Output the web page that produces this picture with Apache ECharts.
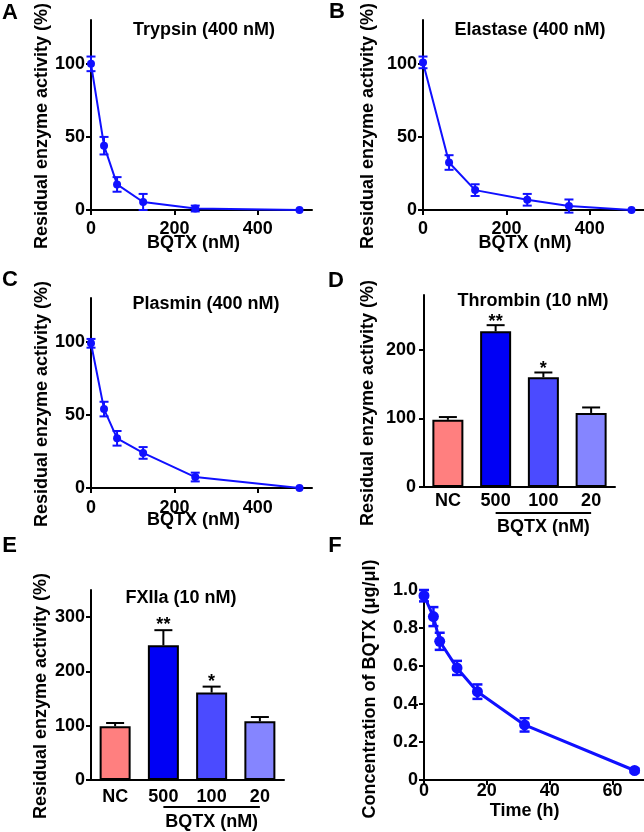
<!DOCTYPE html>
<html><head><meta charset="utf-8">
<script src="https://cdn.jsdelivr.net/npm/echarts@6/dist/echarts.min.js"></script>
<style>html,body{margin:0;padding:0;background:#fff}#c{width:644px;height:832px}</style>
</head><body><div id="c"></div>
<script>
// ---------- data ----------
// Panel A - Trypsin (400 nM)
const trypsinX = [0, 31.25, 62.5, 125, 250, 500];
const trypsinY = [100, 44, 17.5, 5.5, 1, 0];
const trypsinErr = [5, 6, 5, 5.5, 2, 0];
// Panel B - Elastase (400 nM)
const elastaseX = [0, 62.5, 125, 250, 350, 500];
const elastaseY = [101, 32.5, 13.6, 7, 2.7, 0];
const elastaseErr = [4, 5, 4, 4, 4.5, 0];
// Panel C - Plasmin (400 nM)
const plasminX = [0, 31.25, 62.5, 125, 250, 500];
const plasminY = [99, 54, 34, 24, 7.5, 0];
const plasminErr = [3, 5, 5, 4, 3, 0];
// Panel D - Thrombin (10 nM)
const barCats = ['NC', '500', '100', '20'];
const thrombinY = [98, 227, 160, 108];
const thrombinErr = [4, 9, 7, 8];
const thrombinSig = ['', '**', '*', ''];
// Panel E - FXIIa (10 nM)
const fxiiaY = [99, 248, 161, 108];
const fxiiaErr = [6, 28, 11, 8];
const fxiiaSig = ['', '**', '*', ''];
// Panel F - concentration over time
const timeX = [0, 3, 5, 10.5, 17, 32, 67];
const concY = [0.97, 0.86, 0.73, 0.59, 0.465, 0.29, 0.05];
const concErr = [0.03, 0.05, 0.045, 0.037, 0.038, 0.035, 0.01];
// tick labels
const doseTicks = [0, 200, 400];
const pctTicks = [0, 50, 100];
const thrombinTicks = [0, 100, 200];
const fxiiaTicks = [0, 100, 200, 300];
const timeTicks = [0, 20, 40, 60];

// ---------- styles ----------
const FONT = 'Liberation Sans, Arial, Helvetica, sans-serif';
const BLUE = '#1010FF';
const barColors = ['#FF7F7F', '#0000F5', '#4B4BFF', '#8585FF'];

const grids = [
  {left: 91, top: 20, width: 221, height: 190},
  {left: 423, top: 20, width: 221, height: 190},
  {left: 91, top: 298, width: 221, height: 190},
  {left: 424, top: 295, width: 191, height: 192},
  {left: 91, top: 590, width: 193, height: 190},
  {left: 424, top: 590, width: 220, height: 190}
].map(g => Object.assign({outerBoundsMode: 'none', containLabel: false}, g));

const axLine = {show: true, onZero: false, lineStyle: {color: '#000', width: 2}};
const tickSt = {color: '#000', width: 2};
const lab = (m, extra) => Object.assign({color: '#000', fontSize: 18, fontWeight: 'bold', fontFamily: FONT, margin: m}, extra || {});

function valX(idx, max, ticks, margin) {
  return {type: 'value', gridIndex: idx, min: 0, max: max,
    axisLine: axLine, splitLine: {show: false},
    axisTick: {show: true, length: 5, lineStyle: tickSt, customValues: ticks},
    axisLabel: lab(margin, {customValues: ticks})};
}
function valY(idx, max, ticks, margin, fmt) {
  const l = lab(margin, {customValues: ticks});
  if (fmt) l.formatter = fmt;
  return {type: 'value', gridIndex: idx, min: 0, max: max,
    axisLine: axLine, splitLine: {show: false},
    axisTick: {show: true, length: 5, lineStyle: tickSt, customValues: ticks},
    axisLabel: l};
}
function catX(idx, margin) {
  return {type: 'category', gridIndex: idx, data: barCats,
    axisLine: axLine, axisTick: {show: false}, splitLine: {show: false},
    axisLabel: lab(margin)};
}

const xAxes = [
  valX(0, 530, doseTicks, 10),
  valX(1, 530, doseTicks, 10),
  valX(2, 530, doseTicks, 11),
  catX(3, 5),
  catX(4, 8),
  valX(5, 70, timeTicks, 2)
];
const yAxes = [
  valY(0, 130, pctTicks, 6),
  valY(1, 130, pctTicks, 6),
  valY(2, 130, pctTicks, 6),
  valY(3, 280, thrombinTicks, 8),
  valY(4, 350, fxiiaTicks, 6),
  valY(5, 1.0, null, 6, v => v === 0 ? '0' : v.toFixed(1))
];
yAxes[5].interval = 0.2;
delete yAxes[5].axisTick.customValues;
delete yAxes[5].axisLabel.customValues;

const zip = (a, b, c) => a.map((v, i) => c ? [v, b[i], c[i]] : [v, b[i]]);

function lineSeries(idx, xs, ys, size, width) {
  return {type: 'line', xAxisIndex: idx, yAxisIndex: idx, data: zip(xs, ys),
    symbol: 'circle', symbolSize: size, showSymbol: true, z: 3,
    lineStyle: {color: BLUE, width: width}, itemStyle: {color: BLUE}, animation: false};
}
function errSeries(idx, xs, ys, es, cap, width) {
  return {type: 'custom', xAxisIndex: idx, yAxisIndex: idx, data: zip(xs, ys, es), z: 2, clip: false,
    renderItem: function (p, api) {
      const x = api.value(0), y = api.value(1), e = api.value(2);
      if (!e) return null;
      const t = api.coord([x, y + e]), b = api.coord([x, y - e]);
      const st = {stroke: BLUE, lineWidth: width};
      return {type: 'group', children: [
        {type: 'line', shape: {x1: t[0], y1: t[1], x2: b[0], y2: b[1]}, style: st},
        {type: 'line', shape: {x1: t[0] - cap / 2, y1: t[1], x2: t[0] + cap / 2, y2: t[1]}, style: st},
        {type: 'line', shape: {x1: b[0] - cap / 2, y1: b[1], x2: b[0] + cap / 2, y2: b[1]}, style: st}
      ]};
    }, animation: false};
}
function barSeries(idx, ys) {
  return {type: 'bar', xAxisIndex: idx, yAxisIndex: idx, barWidth: 31, z: 3,
    data: ys.map((v, i) => ({value: v, itemStyle: {color: barColors[i]}})),
    itemStyle: {borderColor: '#000', borderWidth: 2}, animation: false};
}
function barErrSeries(idx, ys, es, sig, starGap) {
  return {type: 'custom', xAxisIndex: idx, yAxisIndex: idx, z: 2, clip: false,
    data: ys.map((v, i) => [i, v, es[i]]),
    renderItem: function (p, api) {
      const i = api.value(0), y = api.value(1), e = api.value(2);
      const t = api.coord([i, y + e]), b = api.coord([i, y]);
      const st = {stroke: '#000', lineWidth: 2};
      const ch = [
        {type: 'line', shape: {x1: t[0], y1: t[1], x2: b[0], y2: b[1]}, style: st},
        {type: 'line', shape: {x1: t[0] - 9, y1: t[1], x2: t[0] + 9, y2: t[1]}, style: st}
      ];
      const s = sig[p.dataIndex];
      if (s) ch.push({type: 'text', x: t[0], y: t[1] - starGap,
        style: {text: s, fill: '#000', font: 'bold 18px ' + FONT, align: 'center', verticalAlign: 'middle'}});
      return {type: 'group', children: ch};
    }, animation: false};
}
function bracketSeries(idx, lineDy, textDy) {
  return {type: 'custom', xAxisIndex: idx, yAxisIndex: idx, clip: false, z: 4,
    data: [[1, 3]],
    renderItem: function (p, api) {
      const a = api.coord([api.value(0), 0]), b = api.coord([api.value(1), 0]);
      return {type: 'group', children: [
        {type: 'line', shape: {x1: a[0], y1: a[1] + lineDy, x2: b[0], y2: b[1] + lineDy},
          style: {stroke: '#000', lineWidth: 2}},
        {type: 'text', x: (a[0] + b[0]) / 2, y: a[1] + textDy,
          style: {text: 'BQTX (nM)', fill: '#000', font: 'bold 18px ' + FONT, align: 'center', verticalAlign: 'middle'}}
      ]};
    }, animation: false};
}

function txt(t, x, y, size, rot) {
  return {type: 'text', x: x, y: y, rotation: rot || 0, z: 10,
    style: {text: t, fill: '#000', font: 'bold ' + size + 'px ' + FONT, align: 'center', verticalAlign: 'middle'}};
}
const R = Math.PI / 2;
const yTitle = 'Residual enzyme activity (%)';
const graphics = [
  txt('A', 10, 12.5, 22), txt('B', 337, 12, 22), txt('C', 10, 280, 22),
  txt('D', 336, 280.5, 22), txt('E', 9.5, 546, 22), txt('F', 335, 546, 22),
  txt('Trypsin (400 nM)', 204, 30, 18), txt('Elastase (400 nM)', 530, 30, 18),
  txt('Plasmin (400 nM)', 206, 304, 18), txt('Thrombin (10 nM)', 533, 301.5, 18),
  txt('FXIIa (10 nM)', 181, 598, 18),
  txt(yTitle, 42.5, 126, 18, R), txt(yTitle, 368.5, 126, 18, R), txt(yTitle, 42.5, 404, 18, R),
  txt(yTitle, 368.5, 403, 18, R), txt(yTitle, 41.5, 696, 18, R),
  txt('Concentration of BQTX (\u03bcg/\u03bcl)', 370, 689, 18, R),
  txt('BQTX (nM)', 193.5, 243, 18), txt('BQTX (nM)', 525, 243, 18),
  txt('BQTX (nM)', 193.5, 520, 18), txt('Time (h)', 524.7, 811, 18)
];

const chart = echarts.init(document.getElementById('c'), null, {renderer: 'canvas'});
chart.setOption({
  backgroundColor: '#fff', animation: false,
  grid: grids, xAxis: xAxes, yAxis: yAxes, graphic: graphics,
  series: [
    errSeries(0, trypsinX, trypsinY, trypsinErr, 9, 2), lineSeries(0, trypsinX, trypsinY, 8, 2),
    errSeries(1, elastaseX, elastaseY, elastaseErr, 9, 2), lineSeries(1, elastaseX, elastaseY, 8, 2),
    errSeries(2, plasminX, plasminY, plasminErr, 9, 2), lineSeries(2, plasminX, plasminY, 8, 2),
    barErrSeries(3, thrombinY, thrombinErr, thrombinSig, 3), barSeries(3, thrombinY), bracketSeries(3, 26, 40),
    barErrSeries(4, fxiiaY, fxiiaErr, fxiiaSig, 5), barSeries(4, fxiiaY), bracketSeries(4, 27, 42),
    errSeries(5, timeX, concY, concErr, 10, 2.5), lineSeries(5, timeX, concY, 11, 3)
  ]
});
</script></body></html>
